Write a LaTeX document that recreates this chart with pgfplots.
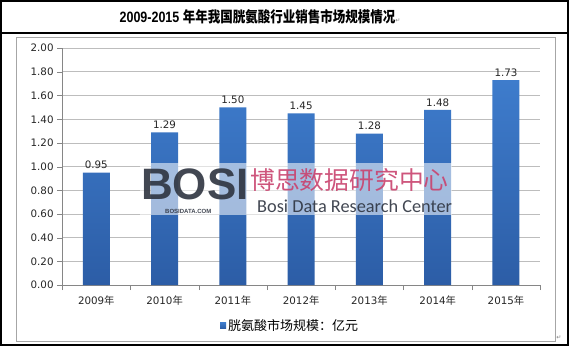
\documentclass[border=0pt]{standalone}
\usepackage{pgfplots}
\pgfplotsset{compat=1.18}
\usepackage{fontspec}
\setmainfont{DejaVu Sans}
\newfontfamily\cjk{Noto Sans CJK SC}
\newfontfamily\arial{Liberation Sans}
\newfontfamily\narrow{Carlito}
\newfontfamily\dejavu{DejaVu Sans}
\definecolor{bartop}{HTML}{3E7CCC}
\definecolor{barbot}{HTML}{2C5DA6}
\definecolor{barblue}{HTML}{3A70BE}
\definecolor{gridc}{HTML}{BDBDBD}
\definecolor{axc}{HTML}{868686}
\definecolor{wmred}{HTML}{C9436E}
\definecolor{wmdark}{HTML}{2E3440}
\begin{document}
\begin{tikzpicture}[x=1pt,y=1pt]
\useasboundingbox (0,0) rectangle (571,348);
\fill[white] (0,0) rectangle (571,348);
\draw[gray!70, line width=1pt] (16,6) rectangle (555,310);
\draw[black, line width=1.6pt] (1,3) rectangle (568,347);
\draw[black, line width=1.6pt] (1,315) -- (568,315);
\node at (260,331) {\scalebox{1}[1.2]{\fontsize{12.5}{14}\selectfont\arial\bfseries 2009-2015 {\cjk\bfseries 年年我国胱氨酸行业销售市场规模情况}}{\dejavu\color{gray}\fontsize{6}{7}\selectfont ↵}};
\node at (559,10) {\dejavu\color{gray}\fontsize{6}{7}\selectfont ↵};
\begin{axis}[
  at={(91,53)}, anchor=south west,
  scale only axis, width=478pt, height=237pt,
  xmin=-0.5, xmax=6.5, ymin=0, ymax=2,
  axis x line*=bottom, axis y line*=left,
  axis line style={-, draw=axc},
  xtick={0,...,6},
  xticklabels={2009{\cjk 年},2010{\cjk 年},2011{\cjk 年},2012{\cjk 年},2013{\cjk 年},2014{\cjk 年},2015{\cjk 年}},
  minor xtick={-0.5,0.5,...,6.5},
  major x tick style={draw=none},
  minor x tick style={draw=axc},
  minor tick length=5pt,
  major tick length=5pt,
  tick align=outside,
  ytick={0,0.2,...,2.01},
  y tick style={draw=axc},
  ymajorgrids, grid style={draw=gridc, line width=0.8pt},
  /pgf/number format/assume math mode=true,
  yticklabel style={/pgf/number format/fixed, /pgf/number format/fixed zerofill, /pgf/number format/precision=2, font=\fontsize{10.3}{12}\selectfont, text=black!85},
  xticklabel style={font=\fontsize{10.3}{12}\selectfont, yshift=-2pt, text=black!85},
  legend style={at={(0.477,-0.17)}, anchor=center, draw=none, font=\fontsize{13}{15}\selectfont\cjk},
  legend image code/.code={\fill[barblue] (0pt,-3pt) rectangle (6pt,3pt);},
  nodes near coords,
  nodes near coords style={/pgf/number format/fixed, /pgf/number format/fixed zerofill, /pgf/number format/precision=2, font=\fontsize{10.3}{12}\selectfont, text=black!85},
]
\addplot[ybar, bar width=27pt, draw=none, top color=bartop, bottom color=barbot] coordinates {
(0,0.95) (1,1.29) (2,1.50) (3,1.45) (4,1.28) (5,1.48) (6,1.73)};
\addlegendentry{胱氨酸市场规模：亿元}
\end{axis}
% watermark
\fill[white, opacity=0.55] (140,133) rectangle (452,185);
\node[anchor=base west, inner sep=0pt, text depth=0pt, text=wmdark, opacity=0.9] at (141,148) {\fontsize{44}{44}\selectfont\arial\bfseries BOSI};
\node[anchor=west, inner sep=0pt, text=wmdark, opacity=0.9] at (165,136.5) {\fontsize{6}{6}\selectfont\arial\bfseries BOSIDATA.COM};
\node[anchor=west, inner sep=0pt, text=wmred, opacity=0.9] at (250,168) {\fontsize{24.8}{26}\selectfont\cjk 博思数据研究中心};
\node[anchor=west, inner sep=0pt, text=wmdark, opacity=0.9] at (257,142) {\fontsize{18.3}{20}\selectfont\narrow Bosi Data Research Center};
\end{tikzpicture}
\end{document}
